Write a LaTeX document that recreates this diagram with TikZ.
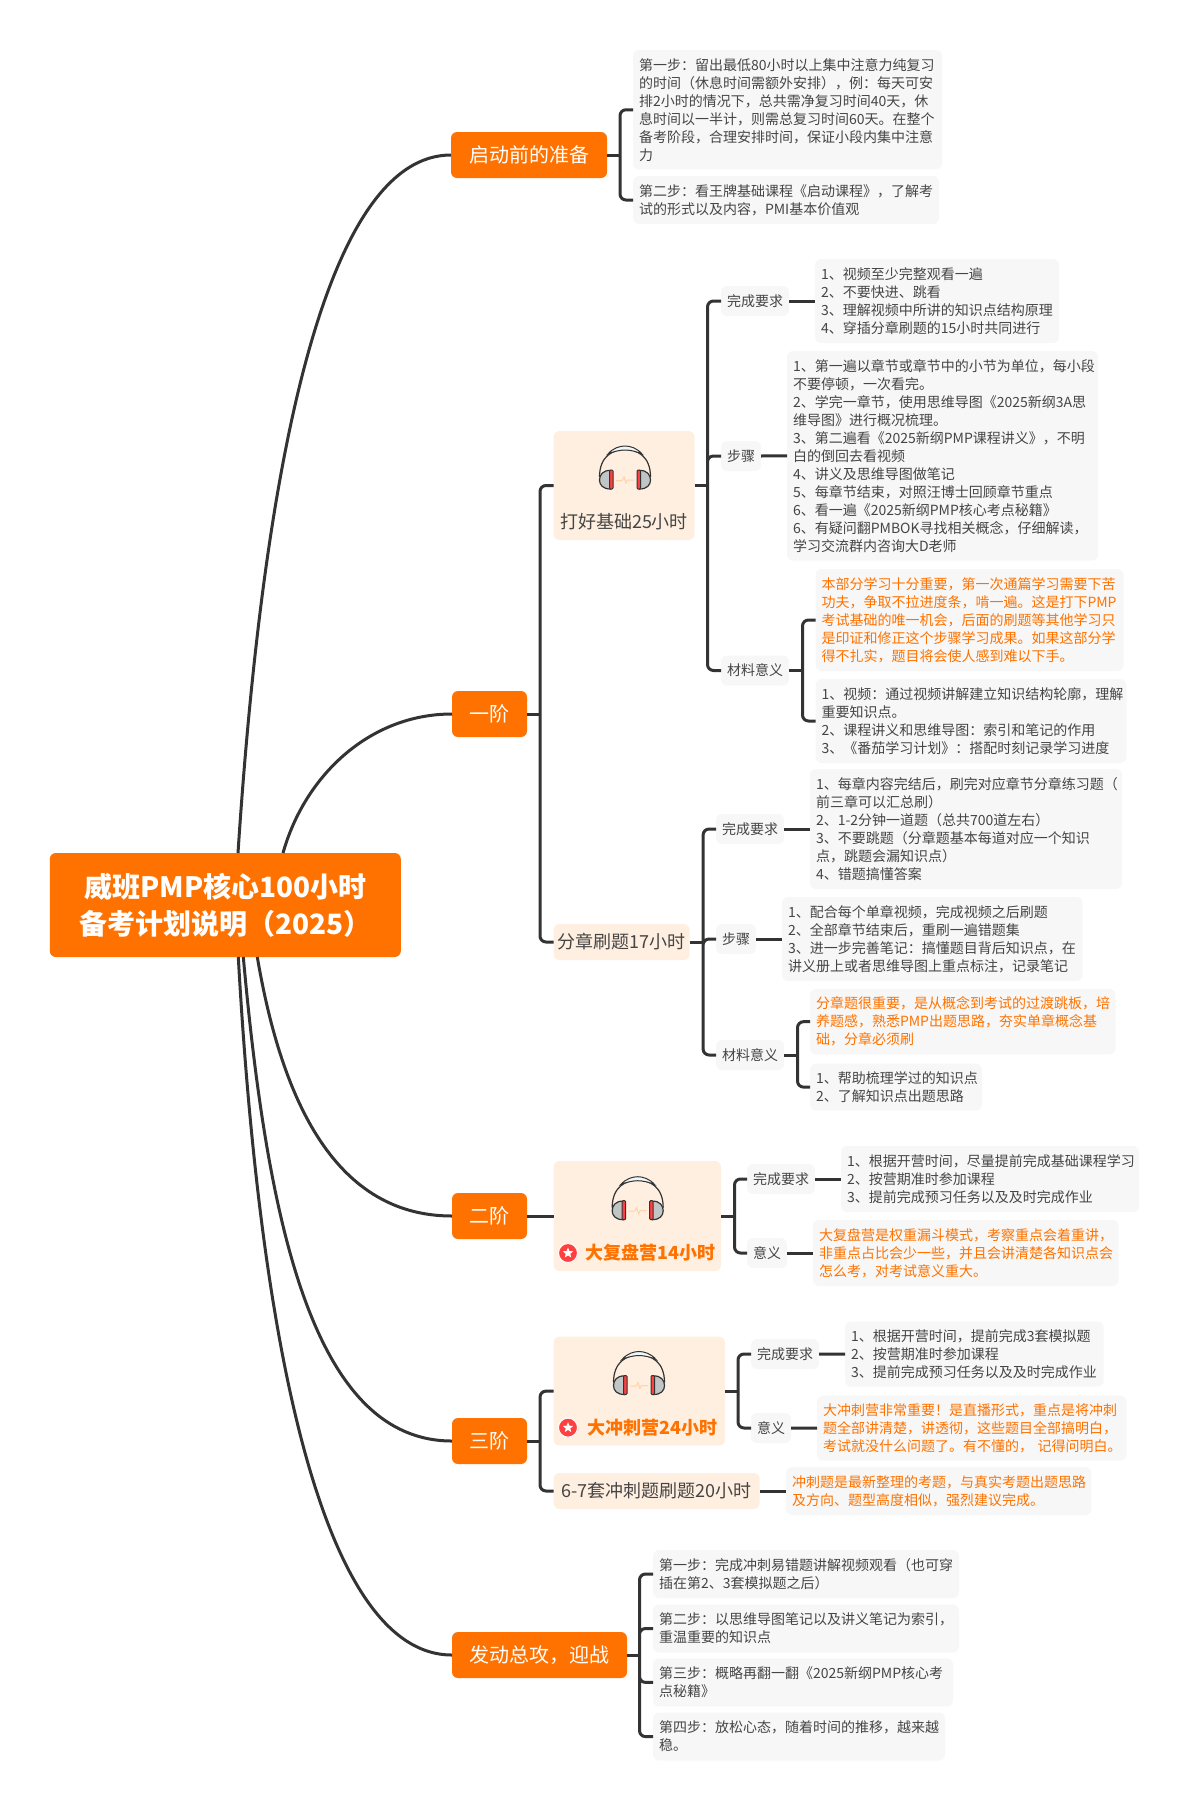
\documentclass[tikz,border=0pt]{standalone}
\usepackage{fontspec}
\setmainfont{Noto Sans CJK SC}
\usepackage{xcolor}
\usetikzlibrary{positioning, shapes.geometric}

\definecolor{brand}{HTML}{FF7200}
\definecolor{peach}{HTML}{FFEFE0}
\definecolor{leafgray}{HTML}{F7F7F7}
\definecolor{inkgray}{HTML}{454545}
\definecolor{wire}{HTML}{333333}

\begin{document}
\begin{tikzpicture}[x=1pt,y=-1pt,
        every node/.style={inner ysep=2pt,outer sep=0pt,text=inkgray},
        rootbox/.style={fill=brand,rounded corners=6pt,text=white,align=center,inner sep=0pt,
            minimum width=351pt,minimum height=104pt,font=\fontsize{28}{37}\selectfont\bfseries},
        topic/.style={fill=brand,rounded corners=6pt,text=white,anchor=west,inner xsep=0pt,
            minimum width=#1,minimum height=46pt,font=\fontsize{20}{24}\selectfont},
        subbox/.style 2 args={fill=peach,rounded corners=6pt,anchor=north west,
            minimum width=#1,minimum height=#2},
        subtext/.style={font=\fontsize{18}{22}\selectfont,inner sep=0pt},
        hottext/.style={font=\fontsize{18}{22}\selectfont\bfseries,inner sep=0pt,text=brand},
        subline/.style={fill=peach,rounded corners=6pt,anchor=west,inner xsep=0pt,
            minimum width=#1,minimum height=36pt,font=\fontsize{18}{22}\selectfont},
        tag/.style={fill=leafgray,rounded corners=6pt,anchor=west,inner xsep=6pt,
            minimum height=30pt,font=\fontsize{14}{18}\selectfont},
        leaf/.style 2 args={fill=leafgray,rounded corners=6pt,anchor=north west,inner xsep=6pt,
            align=left,text width=#1,minimum height=#2,font=\fontsize{14}{18}\selectfont},
        hot/.style={text=brand},
        link/.style={draw=wire,line width=3pt},
        branch/.style={draw=wire,line width=3pt,rounded corners=6pt},
        pics/headset/.style={code={
            \draw[wire,line width=1.2pt] (-25.5,31) .. controls (-25.5,10) and (-12,3.5) .. (0,3.5)
                .. controls (12,3.5) and (25.5,10) .. (25.5,31);
            \draw[wire,line width=1pt,fill=white!80!teal!30] (-17,8) .. controls (-12,2) and (-5,0) .. (0,0)
                .. controls (5,0) and (12,2) .. (17,8) .. controls (12,5.5) and (5,4) .. (0,4)
                .. controls (-5,4) and (-12,5.5) .. (-17,8) -- cycle;
            \draw[wire,line width=1.2pt,fill=teal!10!gray!45] (-14.5,24.5) .. controls (-22,24) and (-25.5,29) .. (-25.5,34)
                .. controls (-25.5,39) and (-22,43) .. (-14.5,43) -- cycle;
            \draw[wire,line width=1.2pt,fill=teal!10!gray!45] (14.5,24.5) .. controls (22,24) and (25.5,29) .. (25.5,34)
                .. controls (25.5,39) and (22,43) .. (14.5,43) -- cycle;
            \draw[wire,line width=1pt,fill=red!75!white,rounded corners=1pt] (-15.5,24) rectangle (-12,43);
            \draw[wire,line width=1pt,fill=red!75!white,rounded corners=1pt] (12,24) rectangle (15.5,43);
            \draw[orange!25!peach,line width=1pt] (-9,34.5) -- (-3,34.5) -- (-1,31) -- (1,37) -- (2.5,34) -- (9,34);
        }},
        pics/badge/.style={code={
            \fill[red!75!white,draw=white,line width=1pt] (0,0) circle (9.5);
            \node[star,star points=5,star point ratio=2.3,fill=white,minimum size=11pt,inner sep=0pt] {};
        }}]

    \useasboundingbox (0,0) rectangle (1189,1810);

    % centre
    \node[rootbox] (root) at (225.3,905) {威班PMP核心100小时\\备考计划说明（2025）};

    % main topics
    \node[topic=156pt] (prep) at (451,155) {启动前的准备};
    \node[topic=75pt] (one) at (452,714) {一阶};
    \node[topic=75pt] (two) at (452,1216) {二阶};
    \node[topic=75pt] (three) at (452,1441) {三阶};
    \node[topic=175pt] (final) at (452,1655) {发动总攻，迎战};

    % before the start
    \node[leaf={297pt}{119.5pt}] (prep_a) at (633,50) {第一步：留出最低80小时以上集中注意力纯复习\\的时间（休息时间需额外安排），例：每天可安\\排2小时的情况下，总共需净复习时间40天，休\\息时间以一半计，则需总复习时间60天。在整个\\备考阶段，合理安排时间，保证小段内集中注意\\力};
    \node[leaf={294pt}{48pt}] (prep_b) at (633,176) {第二步：看王牌基础课程《启动课程》，了解考\\试的形式以及内容，PMI基本价值观};

    % stage one, base
    \node[subbox={141pt}{109pt}] (base) at (553.5,431) {};
    \pic at (625,446) {headset};
    \node[subtext] (base_txt) at (624,522) {打好基础25小时};
    \node[tag] (base_req) at (721,301) {完成要求};
    \node[leaf={232pt}{84pt}] (base_req_leaf) at (815,259) {1、视频至少完整观看一遍\\2、不要快进、跳看\\3、理解视频中所讲的知识点结构原理\\4、穿插分章刷题的15小时共同进行};
    \node[tag] (base_step) at (721,456) {步骤};
    \node[leaf={299pt}{209.6pt}] (base_step_leaf) at (787,351) {1、第一遍以章节或章节中的小节为单位，每小段\\不要停顿，一次看完。\\2、学完一章节，使用思维导图《2025新纲3A思\\维导图》进行概况梳理。\\3、第二遍看《2025新纲PMP课程讲义》，不明\\白的倒回去看视频\\4、讲义及思维导图做笔记\\5、每章节结束，对照汪博士回顾章节重点\\6、看一遍《2025新纲PMP核心考点秘籍》\\6、有疑问翻PMBOK寻找相关概念，仔细解读，\\学习交流群内咨询大D老师};
    \node[tag] (base_mat) at (721,670.5) {材料意义};
    \node[leaf={296pt}{102pt},hot] (base_mat_a) at (815.5,569) {本部分学习十分重要，第一次通篇学习需要下苦\\功夫，争取不拉进度条，啃一遍。这是打下PMP\\考试基础的唯一机会，后面的刷题等其他学习只\\是印证和修正这个步骤学习成果。如果这部分学\\得不扎实，题目将会使人感到难以下手。};
    \node[leaf={299pt}{84pt}] (base_mat_b) at (815.5,679) {1、视频：通过视频讲解建立知识结构轮廓，理解\\重要知识点。\\2、课程讲义和思维导图：索引和笔记的作用\\3、《番茄学习计划》：搭配时刻记录学习进度};

    % stage one, chapters
    \node[subline=136pt] (chap) at (553.6,942) {分章刷题17小时};
    \node[tag] (chap_req) at (716,829) {完成要求};
    \node[leaf={300pt}{120pt}] (chap_req_leaf) at (810,769) {1、每章内容完结后，刷完对应章节分章练习题（\\前三章可以汇总刷）\\2、1-2分钟一道题（总共700道左右）\\3、不要跳题（分章题基本每道对应一个知识\\点，跳题会漏知识点）\\4、错题搞懂答案};
    \node[tag] (chap_step) at (716,939) {步骤};
    \node[leaf={288.6pt}{84pt}] (chap_step_leaf) at (782,897) {1、配合每个单章视频，完成视频之后刷题\\2、全部章节结束后，重刷一遍错题集\\3、进一步完善笔记：搞懂题目背后知识点，在\\讲义册上或者思维导图上重点标注，记录笔记};
    \node[tag] (chap_mat) at (716,1055) {材料意义};
    \node[leaf={293.5pt}{65.4pt},hot] (chap_mat_a) at (810,989) {分章题很重要，是从概念到考试的过渡跳板，培\\养题感，熟悉PMP出题思路，夯实单章概念基\\础，分章必须刷};
    \node[leaf={160pt}{47pt}] (chap_mat_b) at (810,1063.6) {1、帮助梳理学过的知识点\\2、了解知识点出题思路};

    % stage two
    \node[subbox={167.5pt}{110pt}] (review) at (553.5,1161) {};
    \pic at (637.7,1176.7) {headset};
    \pic at (568,1253) {badge};
    \node[hottext] (review_txt) at (650.5,1253) {大复盘营14小时};
    \node[tag] (review_req) at (747,1179) {完成要求};
    \node[leaf={286pt}{66pt}] (review_req_leaf) at (841,1146) {1、根据开营时间，尽量提前完成基础课程学习\\2、按营期准时参加课程\\3、提前完成预习任务以及及时完成作业};
    \node[tag] (review_mean) at (747,1253) {意义};
    \node[leaf={293.6pt}{66pt},hot] (review_mean_leaf) at (813,1220) {大复盘营是权重漏斗模式，考察重点会着重讲，\\非重点占比会少一些，并且会讲清楚各知识点会\\怎么考，对考试意义重大。};

    % stage three
    \node[subbox={171.5pt}{109pt}] (sprint) at (553.5,1336.6) {};
    \pic at (639,1351.5) {headset};
    \pic at (568,1427.6) {badge};
    \node[hottext] (sprint_txt) at (652.5,1428) {大冲刺营24小时};
    \node[tag] (sprint_req) at (751,1354) {完成要求};
    \node[leaf={246.7pt}{65pt}] (sprint_req_leaf) at (845,1321.6) {1、根据开营时间，提前完成3套模拟题\\2、按营期准时参加课程\\3、提前完成预习任务以及及时完成作业};
    \node[tag] (sprint_mean) at (751,1428) {意义};
    \node[leaf={297.5pt}{65pt},hot] (sprint_mean_leaf) at (817,1395.6) {大冲刺营非常重要！是直播形式，重点是将冲刺\\题全部讲清楚，讲透彻，这些题目全部搞明白，\\考试就没什么问题了。有不懂的，\mbox{ }记得问明白。};
    \node[subline=206pt] (mock) at (553.6,1491) {6-7套冲刺题刷题20小时};
    \node[leaf={293.4pt}{48pt},hot] (mock_leaf) at (786,1467) {冲刺题是最新整理的考题，与真实考题出题思路\\及方向、题型高度相似，强烈建议完成。};

    % last push
    \node[leaf={294pt}{48pt}] (final_a) at (653,1550) {第一步：完成冲刺易错题讲解视频观看（也可穿\\插在第2、3套模拟题之后）};
    \node[leaf={294pt}{48pt}] (final_b) at (653,1604.5) {第二步：以思维导图笔记以及讲义笔记为索引，\\重温重要的知识点};
    \node[leaf={288pt}{48pt}] (final_c) at (653,1658.4) {第三步：概略再翻一翻《2025新纲PMP核心考\\点秘籍》};
    \node[leaf={280pt}{48pt}] (final_d) at (653,1712.6) {第四步：放松心态，随着时间的推移，越来越\\稳。};

    % curves out of the centre
    \draw[link] ([xshift=12.7pt]root.north) .. controls (265,440) and (330,155) .. (prep.west);
    \draw[link] ([xshift=57.7pt]root.north) .. controls (305,775) and (370,714) .. (one.west);
    \draw[link] ([xshift=32pt]root.south) .. controls (280,1090) and (330,1216) .. (two.west);
    \draw[link] ([xshift=18pt]root.south) .. controls (268,1230) and (315,1441) .. (three.west);
    \draw[link] ([xshift=13pt]root.south) .. controls (258,1310) and (315,1655) .. (final.west);

    % spines
    \coordinate (prep_j) at ([xshift=13pt]prep.east);
    \coordinate (one_j) at ([xshift=13pt]one.east);
    \coordinate (base_j) at ([xshift=13pt]base.east);
    \coordinate (base_mat_j) at ([xshift=13.5pt]base_mat.east);
    \coordinate (chap_j) at ([xshift=13.5pt]chap.east);
    \coordinate (chap_mat_j) at ([xshift=13.5pt]chap_mat.east);
    \coordinate (review_j) at ([xshift=13.5pt]review.east);
    \coordinate (three_j) at ([xshift=13pt]three.east);
    \coordinate (sprint_j) at ([xshift=13pt]sprint.east);
    \coordinate (final_j) at ([xshift=12.5pt]final.east);

    \draw[link] (prep.east) -- (prep_j);
    \draw[branch] (prep_j) |- (prep_a.west) (prep_j) |- (prep_b.west);

    \draw[link] (one.east) -- (one_j);
    \draw[branch] (one_j) |- (base.west) (one_j) |- (chap.west);

    \draw[link] (base.east) -- (base_j);
    \draw[branch] (base_j) |- (base_req.west) (base_j) |- (base_step.west) (base_j) |- (base_mat.west);
    \draw[link] (base_req.east) -- (base_req_leaf.west);
    \draw[link] (base_step.east) -- (base_step_leaf.west);
    \draw[link] (base_mat.east) -- (base_mat_j);
    \draw[branch] (base_mat_j) |- (base_mat_a.west) (base_mat_j) |- (base_mat_b.west);

    \draw[link] (chap.east) -- (chap_j);
    \draw[branch] (chap_j) |- (chap_req.west) (chap_j) |- (chap_step.west) (chap_j) |- (chap_mat.west);
    \draw[link] (chap_req.east) -- (chap_req_leaf.west);
    \draw[link] (chap_step.east) -- (chap_step_leaf.west);
    \draw[link] (chap_mat.east) -- (chap_mat_j);
    \draw[branch] (chap_mat_j) |- (chap_mat_a.west) (chap_mat_j) |- (chap_mat_b.west);

    \draw[link] (two.east) -- (review.west);
    \draw[link] (review.east) -- (review_j);
    \draw[branch] (review_j) |- (review_req.west) (review_j) |- (review_mean.west);
    \draw[link] (review_req.east) -- (review_req_leaf.west);
    \draw[link] (review_mean.east) -- (review_mean_leaf.west);

    \draw[link] (three.east) -- (three_j);
    \draw[branch] (three_j) |- (sprint.west) (three_j) |- (mock.west);
    \draw[link] (sprint.east) -- (sprint_j);
    \draw[branch] (sprint_j) |- (sprint_req.west) (sprint_j) |- (sprint_mean.west);
    \draw[link] (sprint_req.east) -- (sprint_req_leaf.west);
    \draw[link] (sprint_mean.east) -- (sprint_mean_leaf.west);
    \draw[link] (mock.east) -- (mock_leaf.west);

    \draw[link] (final.east) -- (final_j);
    \draw[branch] (final_j) |- (final_a.west) (final_j) |- (final_b.west) (final_j) |- (final_c.west) (final_j) |- (final_d.west);
\end{tikzpicture}
\end{document}
